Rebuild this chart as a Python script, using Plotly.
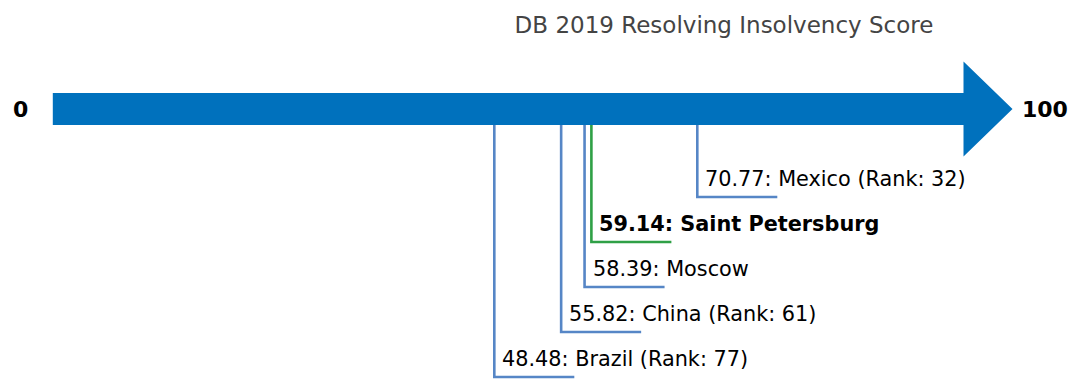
import plotly.graph_objects as go

# Resolving insolvency scores (Doing Business 2019)
places = ["Mexico (Rank: 32)", "Saint Petersburg", "Moscow", "China (Rank: 61)", "Brazil (Rank: 77)"]
scores = [70.77, 59.14, 58.39, 55.82, 48.48]
highlight = "Saint Petersburg"
scale_min, scale_max = 0, 100
title_text = "DB 2019 Resolving Insolvency Score"

# Canvas / layout geometry (pixels)
W, H = 1071, 379
PX_PER_UNIT = 9.107
ZERO_PX = 52.8
ARROW_MID, BODY_HALF, HEAD_HALF, HEAD_LEN_PX = 109, 16, 47.5, 49
FIRST_LEVEL, LEVEL_STEP, TICK_LEN_PX = 197, 45, 80

BLUE_ARROW = "#0071bd"
BLUE_LINE = "#5686c6"
GREEN_LINE = "#2fa046"
FONT = "DejaVu Sans"

x_range = [-ZERO_PX / PX_PER_UNIT, (W - ZERO_PX) / PX_PER_UNIT]
head_len = HEAD_LEN_PX / PX_PER_UNIT
tick_len = TICK_LEN_PX / PX_PER_UNIT

fig = go.Figure()

# Big scale arrow from 0 to 100
top, bot = ARROW_MID - BODY_HALF, ARROW_MID + BODY_HALF
path = (f"M {scale_min},{top} L {scale_max},{top} L {scale_max},{ARROW_MID - HEAD_HALF} "
        f"L {scale_max + head_len},{ARROW_MID} L {scale_max},{ARROW_MID + HEAD_HALF} "
        f"L {scale_max},{bot} L {scale_min},{bot} Z")
fig.add_shape(type="path", path=path, xref="x", yref="y",
              fillcolor=BLUE_ARROW, line=dict(width=0), layer="below")

annotations = []
for i, (name, val) in enumerate(zip(places, scores)):
    level = FIRST_LEVEL + LEVEL_STEP * i
    is_hl = name == highlight
    color = GREEN_LINE if is_hl else BLUE_LINE
    fig.add_trace(go.Scatter(
        x=[val, val, val + tick_len], y=[bot, level, level],
        mode="lines", line=dict(color=color, width=2.6),
        hoverinfo="skip", showlegend=False))
    label = f"{val:.2f}: {name}"
    if is_hl:
        label = f"<b>{label}</b>"
    annotations.append(dict(
        x=val, y=level - 18, xref="x", yref="y", text=label, showarrow=False,
        xanchor="left", yanchor="middle", xshift=6,
        font=dict(family=FONT, size=20.8, color="#000000")))

# End labels of the scale
annotations.append(dict(x=scale_min, y=ARROW_MID, xref="x", yref="y",
                        text=f"<b>{scale_min}</b>", showarrow=False,
                        xanchor="right", yanchor="middle", xshift=-23,
                        font=dict(family=FONT, size=22, color="#000000")))
annotations.append(dict(x=scale_max + head_len, y=ARROW_MID, xref="x", yref="y",
                        text=f"<b>{scale_max}</b>", showarrow=False,
                        xanchor="left", yanchor="middle", xshift=7,
                        font=dict(family=FONT, size=22, color="#000000")))

fig.update_layout(
    width=W, height=H,
    margin=dict(l=0, r=0, t=0, b=0),
    paper_bgcolor="white", plot_bgcolor="white",
    title=dict(text=title_text, x=724 / W, y=1 - 25 / H,
               xanchor="center", yanchor="middle",
               font=dict(family=FONT, size=23, color="#444444")),
    xaxis=dict(range=x_range, visible=False, fixedrange=True),
    yaxis=dict(range=[H, 0], visible=False, fixedrange=True),
    annotations=annotations,
)

fig.write_html("out.html")
